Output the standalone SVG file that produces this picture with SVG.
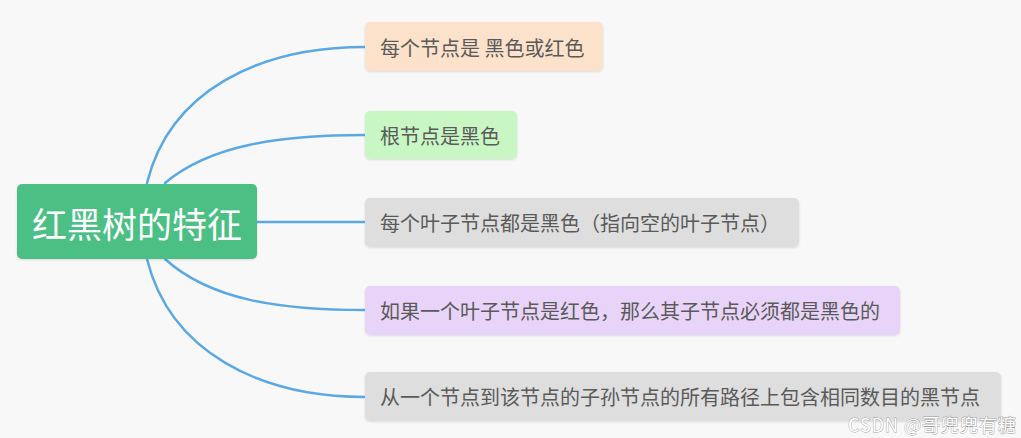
<svg xmlns="http://www.w3.org/2000/svg" width="1021" height="438" viewBox="0 0 1021 438">
<defs>
<style>
.bg{fill:#f8f8f8}
.link{fill:none;stroke:#5aa9e6;stroke-width:2.5;stroke-linecap:round}
.box{stroke:none}
.t{font-family:"Noto Sans CJK SC","Noto Sans",sans-serif;font-size:20px;fill:#5a5a5a;dominant-baseline:central}
.root-t{font-family:"Noto Sans CJK SC","Noto Sans",sans-serif;font-size:35px;fill:#ffffff;dominant-baseline:central;text-anchor:middle}
.wm{font-family:"Noto Sans CJK SC","Noto Sans",sans-serif;font-size:18px;fill:#ffffff;stroke:#9a9a9a;stroke-width:0.8;paint-order:stroke;dominant-baseline:central}
</style>
<filter id="sh" x="-5%" y="-20%" width="110%" height="140%">
<feDropShadow dx="0" dy="1" stdDeviation="1" flood-color="#000" flood-opacity="0.12"/>
</filter>
</defs>
<rect class="bg" x="0" y="0" width="1021" height="438"/>
<g id="connectors">
<path class="link" d="M147,183 C170,90 260,47 365,47"/>
<path class="link" d="M165,183 C210,145 280,135 365,135"/>
<path class="link" d="M257,222 L365,222"/>
<path class="link" d="M165,259 C210,300 280,310 365,310"/>
<path class="link" d="M147,259 C170,352 260,397 365,397"/>
</g>
<g id="root">
<rect x="17" y="184" width="240" height="75" rx="5" fill="#4cbf84" filter="url(#sh)"/>
<text class="root-t" x="137" y="222">红黑树的特征</text>
</g>
<g id="node1">
<rect class="box" x="365" y="22" width="238" height="49" rx="5" fill="#fde2cb" filter="url(#sh)"/>
<text class="t" x="380" y="47">每个节点是 黑色或红色</text>
</g>
<g id="node2">
<rect class="box" x="365" y="111" width="152" height="48" rx="5" fill="#c8f7c4" filter="url(#sh)"/>
<text class="t" x="380" y="135">根节点是黑色</text>
</g>
<g id="node3">
<rect class="box" x="365" y="198" width="434" height="49" rx="5" fill="#dedede" filter="url(#sh)"/>
<text class="t" x="380" y="222">每个叶子节点都是黑色（指向空的叶子节点）</text>
</g>
<g id="node4">
<rect class="box" x="365" y="286" width="535" height="49" rx="5" fill="#e8d4f8" filter="url(#sh)"/>
<text class="t" x="380" y="310">如果一个叶子节点是红色，那么其子节点必须都是黑色的</text>
</g>
<g id="node5">
<rect class="box" x="365" y="372" width="636" height="49" rx="5" fill="#dedede" filter="url(#sh)"/>
<text class="t" x="380" y="396">从一个节点到该节点的子孙节点的所有路径上包含相同数目的黑节点</text>
</g>
<text class="wm" x="848" y="424" textLength="168" lengthAdjust="spacing">CSDN @哥兜兜有糖</text>
</svg>
